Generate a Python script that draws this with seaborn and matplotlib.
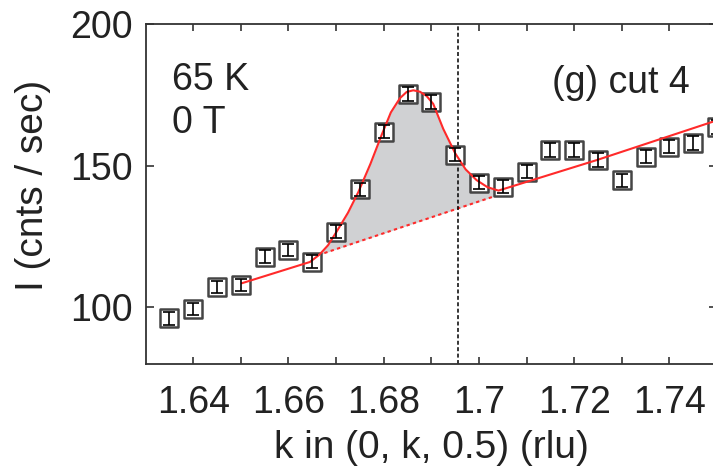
import numpy as np
import pandas as pd
import matplotlib
matplotlib.use("Agg")
import matplotlib.pyplot as plt
import seaborn as sns

# ---- data ----
k_data = [1.635, 1.640, 1.645, 1.650, 1.655, 1.660, 1.665, 1.670, 1.675, 1.680,
          1.685, 1.690, 1.695, 1.700, 1.705, 1.710, 1.715, 1.720, 1.725, 1.730,
          1.735, 1.740, 1.745, 1.750]
I_data = [96.1, 99.4, 107.1, 107.9, 117.9, 120.2, 116.1, 126.7, 141.7, 162.0,
          175.3, 172.5, 153.8, 144.0, 142.6, 147.9, 155.5, 155.5, 152.0, 144.9,
          153.2, 156.7, 157.9, 163.6]
I_err = [2.2, 2.2, 2.2, 2.2, 2.2, 2.2, 2.2, 2.3, 2.3, 2.4,
         2.4, 2.4, 2.3, 2.3, 2.3, 2.3, 2.4, 2.4, 2.3, 2.3,
         2.4, 2.4, 2.4, 2.5]

# fitted curve
fit_k = [1.6502, 1.6645, 1.6665, 1.6683, 1.6701, 1.6725, 1.6747, 1.6772, 1.6796,
         1.6815, 1.6834, 1.6848, 1.6862, 1.6876, 1.6890, 1.6904, 1.6925, 1.6950,
         1.6972, 1.6995, 1.7018, 1.7041, 1.7248, 1.7500]
fit_I = [108.5, 116.0, 118.6, 121.9, 126.7, 133.4, 140.8, 150.6, 161.0,
         168.8, 173.8, 176.0, 176.6, 176.1, 174.6, 171.8, 163.0, 154.4,
         148.7, 144.9, 142.4, 141.2, 152.0, 166.0]

# background (dotted) line under the peak
base_k = [1.6662, 1.7045]
base_I = [118.4, 139.9]

k_marker = 1.6955

xtick_vals = [1.64, 1.66, 1.68, 1.70, 1.72, 1.74]
xtick_labels = ["1.64", "1.66", "1.68", "1.7", "1.72", "1.74"]
xminor_vals = [1.65, 1.67, 1.69, 1.71, 1.73]
ytick_vals = [100, 150, 200]
ytick_labels = ["100", "150", "200"]

# ---- style ----
sns.set_theme(style="ticks")
plt.rcParams["font.family"] = ["Liberation Sans", "DejaVu Sans"]
plt.rcParams["axes.edgecolor"] = "#333333"
plt.rcParams["axes.linewidth"] = 1.3

fig = plt.figure(figsize=(7.13, 4.67), dpi=100)
ax = fig.add_axes([0.2043, 0.2206, 0.8013, 0.728])

red = "#ff2a2a"

# shaded peak area
fill_x = np.array(sorted(set([k for k in fit_k if base_k[0] <= k <= base_k[1]] + base_k)))
fill_top = np.interp(fill_x, fit_k, fit_I)
fill_bot = np.interp(fill_x, base_k, base_I)
ax.fill_between(fill_x, fill_bot, fill_top, color="#d0d1d3", lw=0, zorder=1)

# dotted background
sns.lineplot(x=base_k, y=base_I, ax=ax, color=red, lw=1.5,
             linestyle=(0, (1.6, 1.6)), zorder=2)

# vertical dashed marker
ax.axvline(k_marker, color="black", lw=1.1, linestyle=(0, (2.6, 1.6)), zorder=2)

# data squares
df = pd.DataFrame({"k": k_data, "I": I_data, "err": I_err})
sns.scatterplot(data=df, x="k", y="I", ax=ax, marker="s", s=165,
                facecolor="white", edgecolor="#454545", linewidth=1.8, zorder=3)

# fit line
fit_df = pd.DataFrame({"k": fit_k, "I": fit_I})
sns.lineplot(data=fit_df, x="k", y="I", ax=ax, color=red, lw=1.5, zorder=4,
             sort=False)

# error bars
ax.errorbar(df["k"], df["I"], yerr=df["err"], fmt="none", ecolor="black",
            elinewidth=1.2, capsize=4.0, capthick=1.2, zorder=5)

# axes
ax.set_xlim(1.63, 1.75)
ax.set_ylim(80, 200)
ax.set_xticks(xtick_vals)
ax.set_xticklabels(xtick_labels)
ax.set_xticks(xminor_vals, minor=True)
ax.set_yticks(ytick_vals)
ax.set_yticklabels(ytick_labels)

for side in ["top", "right", "left", "bottom"]:
    ax.spines[side].set_visible(True)

ax.tick_params(axis="x", which="both", direction="in", length=5, width=1.2,
               top=True, bottom=True, labelsize=27, pad=15, color="#333333")
ax.tick_params(axis="y", which="both", direction="in", length=5.5, width=1.2,
               left=True, right=True, labelsize=27, pad=9, color="#333333")
for lab in ax.get_xticklabels() + ax.get_yticklabels():
    lab.set_color("#222222")

ax.set_xlabel("k in (0, k, 0.5) (rlu)", fontsize=28, color="#222222")
ax.set_ylabel("I (cnts / sec)", fontsize=28, color="#222222")
ax.xaxis.set_label_coords(0.5, -0.194)
ax.yaxis.set_label_coords(-0.166, 0.525)

ax.text(0.0455, 0.806, "65 K", transform=ax.transAxes, fontsize=27,
        color="#222222", ha="left", va="baseline")
ax.text(0.0455, 0.679, "0 T", transform=ax.transAxes, fontsize=27,
        color="#222222", ha="left", va="baseline")
ax.text(0.7107, 0.796, "(g) cut 4", transform=ax.transAxes, fontsize=27,
        color="#222222", ha="left", va="baseline")

if ax.get_legend() is not None:
    ax.get_legend().remove()

fig.savefig("out.png", dpi=100)
